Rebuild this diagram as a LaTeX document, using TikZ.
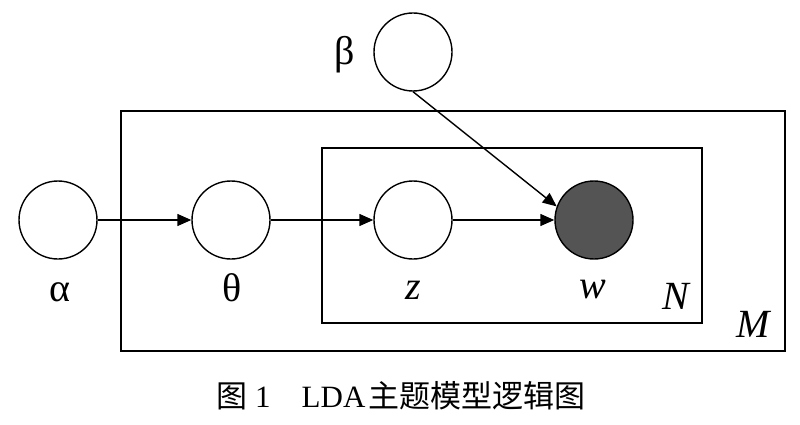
\documentclass[tikz,border=0pt]{standalone}
\usepackage{fontspec}
\setmainfont{Liberation Serif}
\newfontfamily\cjk{Noto Sans CJK SC}
\newfontfamily\tms{Liberation Serif}
\usetikzlibrary{arrows.meta}
\begin{document}
\begin{tikzpicture}[x=1pt,y=-1pt,
  var/.style={circle,draw,line width=1.4pt,minimum size=78pt,inner sep=0pt},
  obs/.style={var,fill=black!67},
  plate/.style={draw,line width=2pt},
  lbl/.style={font=\tms\fontsize{40}{46}\selectfont,inner sep=0pt},
  edge/.style={line width=1.4pt,-{Triangle[length=14pt,width=12pt]}}]
\useasboundingbox (0,0) rectangle (800,425);
\draw[plate] (121,111) rectangle (785,351);
\draw[plate] (322,148) rectangle (702,323);
\node[var] (alpha) at (58,220) {};
\node[var] (theta) at (231,220) {};
\node[var] (z) at (413,220) {};
\node[obs] (w) at (594,220) {};
\node[var] (beta) at (413,52) {};
\node[lbl] (la) at (60,292) {α};
\node[lbl] (lt) at (232,288) {θ};
\node[lbl] (lz) at (413,290) {\itshape z};
\node[lbl] (lw) at (593,290) {\itshape w};
\node[lbl] (lN) at (676,296) {\itshape N};
\node[lbl] (lM) at (753,324) {\itshape M};
\node[lbl] (lb) at (345,55) {β};
\draw[edge] (alpha) -- (theta);
\draw[edge] (theta) -- (z);
\draw[edge] (z) -- (w);
\draw[edge] (beta.south) -- (w.160);
\node[font=\tms\fontsize{31}{36}\selectfont,inner sep=0pt] (cap) at (401,396) {{\cjk 图}\hspace{0.25em}1\hspace{1em}LDA\hspace{0.1em}{\cjk 主题模型逻辑图}};
\end{tikzpicture}
\end{document}
